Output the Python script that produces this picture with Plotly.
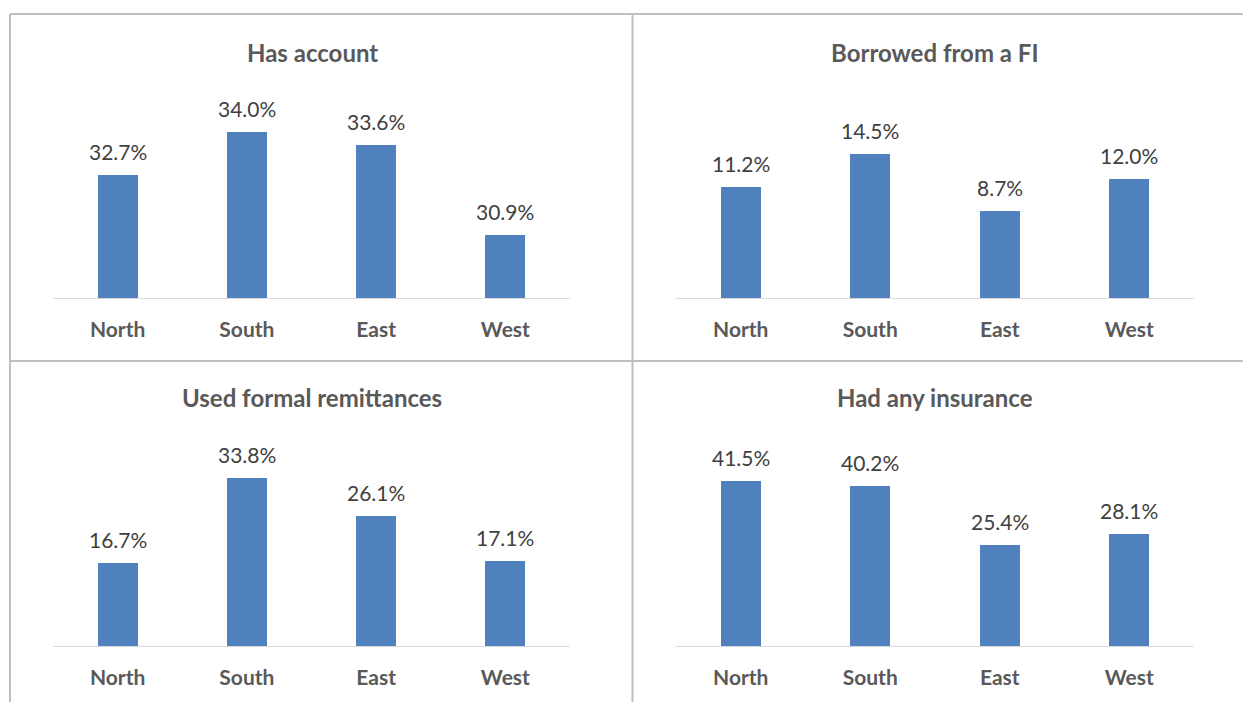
import plotly.graph_objects as go

W, H = 1243, 702

regions = ["North", "South", "East", "West"]
has_account = [32.7, 34.0, 33.6, 30.9]
borrowed_fi = [11.2, 14.5, 8.7, 12.0]
formal_remit = [16.7, 33.8, 26.1, 17.1]
any_insurance = [41.5, 40.2, 25.4, 28.1]

titles = ["Has account", "Borrowed from a FI", "Used formal remittances", "Had any insurance"]
series = [has_account, borrowed_fi, formal_remit, any_insurance]
y_ranges = [[29, 35], [0, 20], [0, 40], [0, 50]]

FONT = "Lato, Carlito, Calibri, 'Open Sans', sans-serif"
BAR = "#4f81bd"
TITLE_C = "#595959"
LABEL_C = "#404040"
BORDER = "#bfbfbf"


def px_x(v):
    return v / W


def px_y(v):
    return 1 - v / H


# plot areas in pixels: (left, right, top, bottom)
areas = [
    (53, 570, 99, 298),
    (676, 1194, 99, 298),
    (53, 570, 447, 646),
    (676, 1194, 447, 646),
]
title_pos = [(312, 52), (935, 52), (312, 398), (935, 398)]

fig = go.Figure()
layout = {}
annotations = []

for i, (vals, (l, r, t, b), yr) in enumerate(zip(series, areas, y_ranges)):
    n = "" if i == 0 else str(i + 1)
    xa, ya = "x" + n, "y" + n
    # bars start at the axis minimum so a non-zero floor still draws correctly
    fig.add_trace(go.Bar(
        x=regions, y=[v - yr[0] for v in vals], base=yr[0], xaxis=xa, yaxis=ya,
        marker=dict(color=BAR, line=dict(width=0)),
        width=0.31, showlegend=False,
    ))
    layout["xaxis" + n] = dict(
        domain=[px_x(l), px_x(r)], anchor=ya, range=[-0.5, 3.5],
        showline=True, linecolor="#d9d9d9", linewidth=1,
        ticks="outside", ticklen=0, ticklabelstandoff=13,
        tickfont=dict(family=FONT, size=21, color=TITLE_C, weight="bold"),
        showgrid=False, zeroline=False, fixedrange=True,
    )
    layout["yaxis" + n] = dict(
        domain=[px_y(b), px_y(t)], anchor=xa, range=yr,
        visible=False, showgrid=False, zeroline=False, fixedrange=True,
    )
    for cat, v in zip(regions, vals):
        annotations.append(dict(
            x=cat, y=v, xref=xa, yref=ya, text=f"{v:.1f}%",
            showarrow=False, yanchor="bottom", yshift=9,
            font=dict(family=FONT, size=21, color=LABEL_C),
        ))

for ttl, (cx, cy) in zip(titles, title_pos):
    annotations.append(dict(
        x=px_x(cx), y=px_y(cy), xref="paper", yref="paper", text=ttl,
        showarrow=False, xanchor="center", yanchor="middle",
        font=dict(family=FONT, size=24, color=TITLE_C, weight="bold"),
    ))

# panel separators
line = dict(color=BORDER, width=2)
shapes = [
    dict(type="line", xref="paper", yref="paper", x0=px_x(10), x1=1, y0=px_y(14), y1=px_y(14), line=line),
    dict(type="line", xref="paper", yref="paper", x0=px_x(10), x1=px_x(10), y0=px_y(14), y1=0, line=line),
    dict(type="line", xref="paper", yref="paper", x0=px_x(632.5), x1=px_x(632.5), y0=px_y(14), y1=0, line=line),
    dict(type="line", xref="paper", yref="paper", x0=px_x(10), x1=1, y0=px_y(361), y1=px_y(361), line=line),
]

fig.update_layout(
    width=W, height=H, margin=dict(l=0, r=0, t=0, b=0),
    paper_bgcolor="white", plot_bgcolor="white",
    annotations=annotations, shapes=shapes, bargap=0,
    **layout,
)

fig.write_html("out.html")
